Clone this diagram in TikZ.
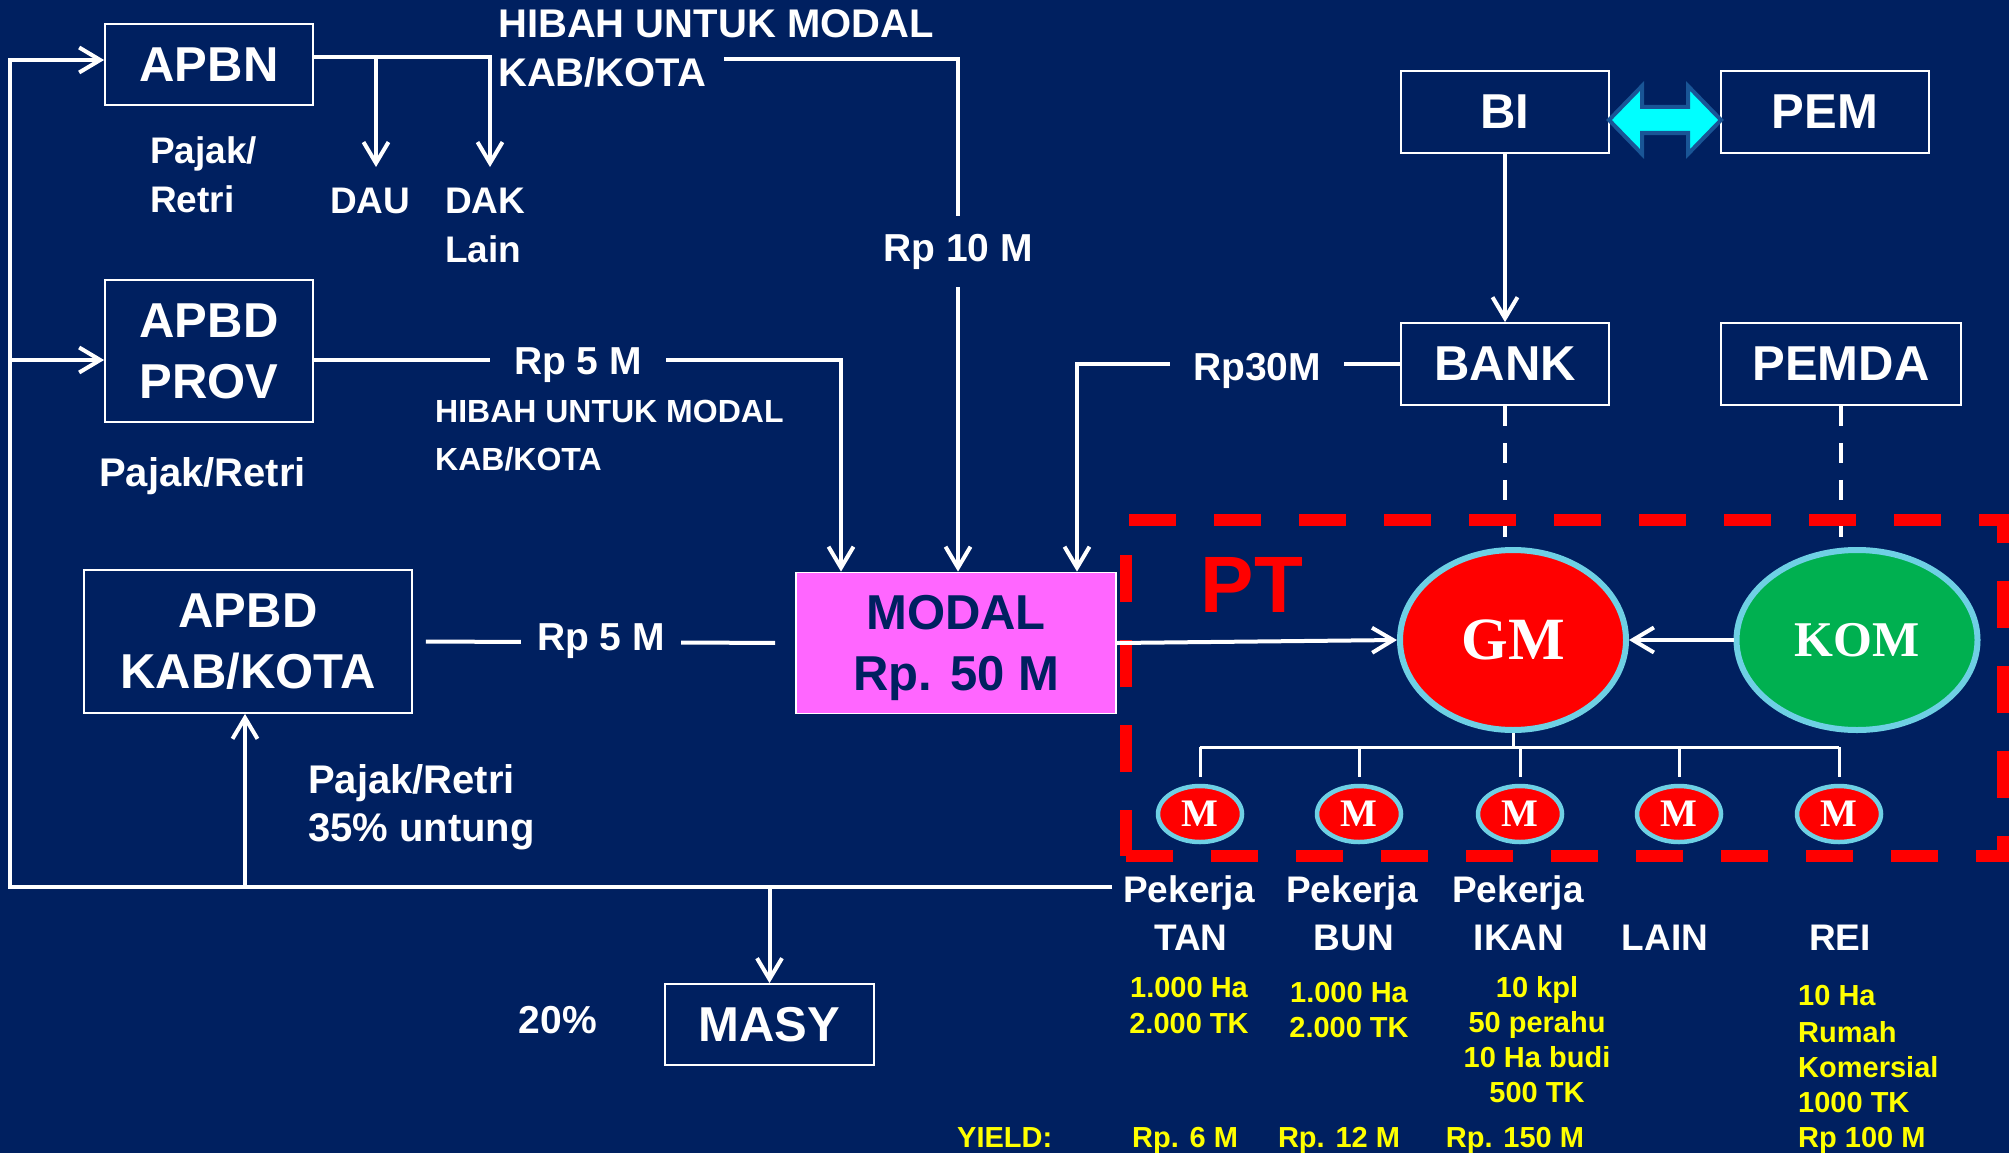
\documentclass[tikz,border=0pt]{standalone}
\usepackage{fontspec}
\setmainfont{Liberation Sans}
\newfontfamily\timesf{Liberation Serif}
\usetikzlibrary{arrows.meta,shapes.geometric}

\definecolor{bg}{RGB}{0,32,96}
\definecolor{rimcyan}{RGB}{110,208,228}
\definecolor{magbox}{RGB}{255,102,255}
\definecolor{komgreen}{RGB}{0,176,80}
\definecolor{arrowcyan}{RGB}{0,255,255}
\definecolor{arrowrim}{RGB}{25,85,150}
\definecolor{ylw}{RGB}{255,255,0}

\newcommand\fsz[2]{\fontsize{#1}{#2}\selectfont\bfseries}

\tikzset{
  box/.style={draw=white, line width=1.8pt, text=white, align=center,
    inner sep=0pt, font=\fsz{49}{61}},
  wire/.style={draw=white, line width=4pt},
  arr/.style={wire, -{Straight Barb[length=21pt,width=25pt]}},
  dashwire/.style={draw=white, line width=4pt, dash pattern=on 20pt off 17pt},
  lbl/.style={text=white, inner sep=0pt, font=\fsz{39}{48}},
  biglbl/.style={text=white, inner sep=0pt, font=\fsz{40}{48}},
  smalllbl/.style={text=white, inner sep=0pt, font=\fsz{32}{38}},
  gaplbl/.style={lbl, fill=bg},
  worker/.style={text=white, inner sep=0pt, font=\fsz{37}{44}},
  yl/.style={text=ylw, inner sep=0pt, font=\fsz{29}{35}},
  bigoval/.style={ellipse, draw=rimcyan, line width=6pt, inner sep=0pt,
    minimum height=180pt, text=white},
  unit/.style={ellipse, draw=rimcyan, line width=4.5pt, fill=red, inner sep=0pt,
    minimum width=84pt, minimum height=56pt, text=white,
    font=\timesf\bfseries\fontsize{39}{39}\selectfont},
}

\begin{document}
\begin{tikzpicture}[x=1pt,y=-1pt]
\fill[bg] (0,0) rectangle (2009,1153);
\useasboundingbox (0,0) rectangle (2009,1153);

% ---------- boxes ----------
\node[box, minimum width=208pt, minimum height=81pt] (apbn) at (209,64.5) {APBN};
\node[box, minimum width=208pt, minimum height=142pt] (prov) at (209,351) {APBD\\PROV};
\node[box, minimum width=328pt, minimum height=143pt] (kab) at (248,641.5) {APBD\\KAB/KOTA};
\node[box, fill=magbox, text=bg, text depth=0pt, minimum width=320pt, minimum height=141pt] (modal) at (956,643) {MODAL\\Rp. 50 M};
\node[box, minimum width=208pt, minimum height=82pt] (bi) at (1505,112) {BI};
\node[box, minimum width=208pt, minimum height=82pt] (pem) at (1825,112) {PEM};
\node[box, minimum width=208pt, minimum height=82pt] (bank) at (1505,364) {BANK};
\node[box, minimum width=240pt, minimum height=82pt] (pemda) at (1841,364) {PEMDA};
\node[box, minimum width=209pt, minimum height=81pt] (masy) at (769.5,1024.5) {MASY};

% ---------- company: GM, KOM and units ----------
\node[bigoval, fill=red, minimum width=226pt, font=\timesf\bfseries\fontsize{60}{60}\selectfont] (gm) at (1513,640) {GM};
\node[bigoval, fill=komgreen, minimum width=241pt, font=\timesf\bfseries\fontsize{50}{50}\selectfont] (kom) at (1857,640) {KOM};
\node[unit] (m1) at (1200,814) {M};
\node[unit] (m2) at (1359,814) {M};
\node[unit] (m3) at (1520,814) {M};
\node[unit] (m4) at (1679,814) {M};
\node[unit] (m5) at (1839,814) {M};

% ---------- helper points ----------
\coordinate (dauIn) at (376,167);
\coordinate (dakIn) at (490,167);
\coordinate (hibStart) at (724,59);
\coordinate (rp10Top) at (958,211);
\coordinate (colA) at (841,0);
\coordinate (colB) at (958,0);
\coordinate (colC) at (1077,0);
\coordinate (loopR) at (1112,887);
\coordinate (loopL) at (10,887);
\coordinate (bar) at (0,747);

% ---------- flows from APBN ----------
\draw[arr] ([yshift=7.5pt]apbn.east) -| (dakIn);
\draw[arr] (dauIn |- 0,57) -- (dauIn);
\draw[wire] (hibStart) -| (rp10Top);
\draw[arr] (rp10Top) -- (colB |- modal.north);

% ---------- flows into MODAL ----------
\draw[arr] ([yshift=-9pt]prov.east) -| (colA |- modal.north);
\draw[wire, shorten <=13pt, shorten >=20pt] (kab.east) -- (modal.west);
\draw[arr] (bank.west) -| (colC |- modal.north);

% ---------- BI / BANK / PEMDA ----------
\draw[arr] (bi.south) -- (bank.north);
\draw[arrowrim, line width=4pt, fill=arrowcyan, line join=miter]
  (1609,120) -- (1642,86) -- (1642,107) -- (1688,107) -- (1688,86) -- (1721,120)
  -- (1688,154) -- (1688,133) -- (1642,133) -- (1642,154) -- cycle;
\draw[dashwire, shorten >=5pt] (bank.south) -- (bank.south |- gm.north);
\draw[dashwire, shorten >=5pt] (pemda.south) -- (pemda.south |- kom.north);

% ---------- PT frame ----------
\node[draw=red, line width=12pt, dash pattern=on 47pt off 38pt, inner sep=0pt,
  minimum width=877pt, minimum height=336pt] (ptframe) at (1564.5,688) {};
\node[text=red, inner sep=0pt, font=\fsz{80}{80}, anchor=base] (pt) at (1252,612) {PT};

% ---------- inside the company ----------
\draw[arr] (modal.east) -- (gm.west);
\draw[arr] (kom.west) -- (gm.east);
\draw[wire, line width=3pt] (gm.south) -- (gm.south |- bar);
\draw[wire, line width=3pt] (m1.north |- bar) -- (m5.north |- bar);
\foreach \u in {m1,m2,m3,m4,m5}
  \draw[wire, line width=3pt, shorten >=7pt] (\u.north |- bar) -- (\u.north);

% ---------- return loop ----------
\draw[arr] (loopR) -- (loopL) |- ([yshift=4.5pt]apbn.west);
\draw[arr] (loopL |- prov.west) ++(0,9) -- ([yshift=-9pt]prov.west);
\draw[arr] ([xshift=-3pt]kab.south |- loopL) -- ([xshift=-3pt]kab.south);
\draw[arr] (masy.north |- loopL) -- (masy.north);

% ---------- labels ----------
\node[biglbl, anchor=base west] (hib1) at (498,38) {HIBAH UNTUK MODAL};
\node[biglbl, anchor=base west] (hib2) at (498,87) {KAB/KOTA};
\node[worker, anchor=base west] (pj1) at (150,163) {Pajak/};
\node[worker, anchor=base west] (pj2) at (150,212) {Retri};
\node[worker, anchor=base west] (dau) at (330,213) {DAU};
\node[worker, anchor=base west] (dak) at (445,213) {DAK};
\node[worker, anchor=base west] (lain) at (445,262) {Lain};
\node[gaplbl, anchor=base, inner xsep=4pt, inner ysep=18pt] (rp10) at (958,261) {Rp 10 M};

\node[gaplbl, anchor=base, inner xsep=24pt, inner ysep=6pt] (rp5a) at (578,374) {Rp 5 M};
\node[smalllbl, anchor=base west] (hib3) at (435,422) {HIBAH UNTUK MODAL};
\node[smalllbl, anchor=base west] (hib4) at (435,470) {KAB/KOTA};
\node[biglbl, anchor=base west] (pj3) at (99,486) {Pajak/Retri};
\node[gaplbl, anchor=base, inner xsep=16pt, inner ysep=6pt] (rp5b) at (601,650) {Rp 5 M};
\node[gaplbl, anchor=base, inner xsep=23pt, inner ysep=6pt] (rp30) at (1257,380) {Rp30M};
\node[biglbl, anchor=base west] (pj4) at (308,793) {Pajak/Retri};
\node[biglbl, anchor=base west] (untung) at (308,841) {35\% untung};
\node[lbl, anchor=base] (pct) at (558,1033) {20\%};

% ---------- sectors ----------
\node[worker, anchor=base] (pk1) at (1189,902) {Pekerja};
\node[worker, anchor=base] (pk2) at (1352,902) {Pekerja};
\node[worker, anchor=base] (pk3) at (1518,902) {Pekerja};
\node[worker, anchor=base] (tan) at (1191,950) {TAN};
\node[worker, anchor=base] (bun) at (1354,950) {BUN};
\node[worker, anchor=base] (ikan) at (1519,950) {IKAN};
\node[worker, anchor=base] (lainx) at (1665,950) {LAIN};
\node[worker, anchor=base] (rei) at (1840,950) {REI};

\node[yl, anchor=base] at (1189,997) {1.000 Ha};
\node[yl, anchor=base] at (1189,1033) {2.000 TK};
\node[yl, anchor=base] at (1349,1002) {1.000 Ha};
\node[yl, anchor=base] at (1349,1037) {2.000 TK};
\node[yl, anchor=base] at (1537,997) {10 kpl};
\node[yl, anchor=base] at (1537,1032) {50 perahu};
\node[yl, anchor=base] at (1537,1067) {10 Ha budi};
\node[yl, anchor=base] at (1537,1102) {500 TK};
\node[yl, anchor=base west] at (1798,1005) {10 Ha};
\node[yl, anchor=base west] at (1798,1042) {Rumah};
\node[yl, anchor=base west] at (1798,1077) {Komersial};
\node[yl, anchor=base west] at (1798,1112) {1000 TK};
\node[yl, anchor=base west] at (1798,1147) {Rp 100 M};
\node[yl, anchor=base west] (yield) at (957,1147) {YIELD:};
\node[yl, anchor=base] at (1185,1147) {Rp. 6 M};
\node[yl, anchor=base] at (1339,1147) {Rp. 12 M};
\node[yl, anchor=base] at (1515,1147) {Rp. 150 M};
\end{tikzpicture}
\end{document}
